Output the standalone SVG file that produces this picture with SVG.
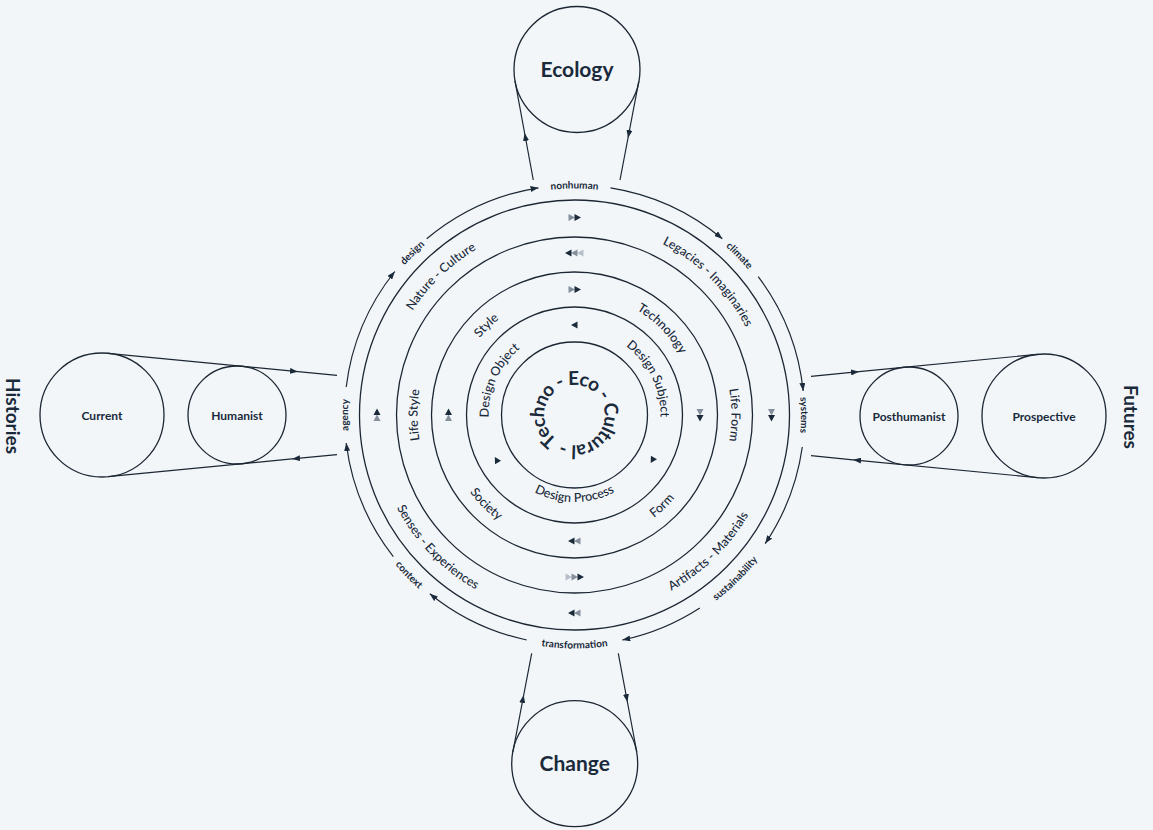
<svg xmlns="http://www.w3.org/2000/svg" xmlns:xlink="http://www.w3.org/1999/xlink" width="1153" height="830" viewBox="0 0 1153 830">
<style>
  .ring{fill:none;stroke:#1d2733;stroke-width:1.3}
  .conn{fill:none;stroke:#1d2733;stroke-width:1.2}
  .nc{fill:none;stroke:#1d2733;stroke-width:1.3}
  text{font-family:Lato,"Liberation Sans",sans-serif;fill:#1a2a3b}
  .outer{font-size:10px;font-weight:700;text-anchor:middle}
  .rl{font-size:12.5px;font-weight:500;text-anchor:middle}
  .nl{font-size:12px;font-weight:700;text-anchor:middle}
  .big{font-size:21px;font-weight:700;text-anchor:middle}
  .title{font-size:19px;font-weight:700;text-anchor:middle}
  .ctr{font-size:19px;font-weight:700}
  .dk{fill:#1b2a3a}
  .gr{fill:#848f9b}
  .lt{fill:#b6bec7}
</style>
<defs>
  <marker id="ah" viewBox="0 0 8 6" refX="8" refY="3" markerWidth="8" markerHeight="6" markerUnits="userSpaceOnUse" orient="auto">
    <path d="M0,0 L8,3 L0,6 z" fill="#1b2a3a"/>
  </marker>
  <path id="tri" d="M-3,-3.5 L3.5,0 L-3,3.5 z"/>
  <path id="t226" d="M-196.15,-113.25 A226.5,226.5 0 0 1 196.15,-113.25"/>
  <path id="b233" d="M-202.21,116.75 A233.5,233.5 0 0 0 202.21,116.75"/>
  <path id="t192" d="M-166.71,-96.25 A192.5,192.5 0 0 1 166.71,-96.25"/>
  <path id="b200" d="M-173.63,100.25 A200.5,200.5 0 0 0 173.63,100.25"/>
  <path id="t157" d="M-135.96,-78.5 A157,157 0 0 1 135.96,-78.5"/>
  <path id="t122" d="M-105.65,-61 A122,122 0 0 1 105.65,-61"/>
  <path id="b130" d="M-112.58,65 A130,130 0 0 0 112.58,65"/>
  <path id="t86" d="M-74.48,-43 A86,86 0 0 1 74.48,-43"/>
  <path id="b87" d="M-75.34,43.5 A87,87 0 0 0 75.34,43.5"/>
  <path id="ctrp" d="M-17.21,24.57 A30,30 0 1 1 17.21,-24.57 A30,30 0 1 1 -17.21,24.57"/>
</defs>
<rect width="1153" height="830" fill="#f2f6f9"/>

<g id="titles">
  <text class="title" transform="translate(12,416) rotate(90)" dy="6">Histories</text>
  <text class="title" transform="translate(1130,417) rotate(90)" dy="6">Futures</text>
</g>

<g id="connectors">
  <path class="conn" marker-end="url(#ah)" d="M346.2,387 A230,230 0 0 1 394.8,271.5"/>
  <path class="conn" marker-end="url(#ah)" d="M426.7,238.8 A230,230 0 0 1 538.5,187.8"/>
  <path class="conn" marker-end="url(#ah)" d="M610.5,187.8 A230,230 0 0 1 722.3,238.8"/>
  <path class="conn" marker-end="url(#ah)" d="M758.2,276.6 A230,230 0 0 1 803.2,391"/>
  <path class="conn" marker-end="url(#ah)" d="M802.3,447 A230,230 0 0 1 765.2,543.6"/>
  <path class="conn" marker-end="url(#ah)" d="M699.8,607.9 A230,230 0 0 1 622.3,640"/>
  <path class="conn" marker-end="url(#ah)" d="M526.7,640 A230,230 0 0 1 429.8,593.7"/>
  <path class="conn" marker-end="url(#ah)" d="M393.3,556.6 A230,230 0 0 1 346.2,443"/>
  <path class="conn" marker-mid="url(#ah)" d="M533.3,180 L524.6,133 L515,80.8"/>
  <path class="conn" marker-mid="url(#ah)" d="M638.8,81.3 L628,138 L620,180"/>
  <path class="conn" marker-mid="url(#ah)" d="M512.9,751.9 L523.7,695 L531.7,653.3"/>
  <path class="conn" marker-mid="url(#ah)" d="M618.3,653.3 L627.4,702 L636.8,752"/>
  <path class="conn" marker-mid="url(#ah)" d="M108,353.3 L298,371.7 L337,375.4"/>
  <path class="conn" marker-mid="url(#ah)" d="M337,454.6 L292,458.9 L108,476.7"/>
  <path class="conn" marker-mid="url(#ah)" d="M811,376.3 L859,371.7 L1038,354.3"/>
  <path class="conn" marker-mid="url(#ah)" d="M1038,477.7 L853,459.8 L811,455.7"/>
</g>

<g id="outer-labels" transform="translate(574.5,415)">
  <text class="outer" transform="rotate(-45)"><textPath href="#t226" startOffset="50%">design</textPath></text>
  <text class="outer"><textPath href="#t226" startOffset="50%">nonhuman</textPath></text>
  <text class="outer" transform="rotate(46)"><textPath href="#t226" startOffset="50%">climate</textPath></text>
  <text class="outer" transform="rotate(90)"><textPath href="#t226" startOffset="50%">systems</textPath></text>
  <text class="outer" transform="rotate(-90)"><textPath href="#t226" startOffset="50%">agency</textPath></text>
  <text class="outer" transform="rotate(-44.5)"><textPath href="#b233" startOffset="50%">sustainability</textPath></text>
  <text class="outer"><textPath href="#b233" startOffset="50%">transformation</textPath></text>
  <text class="outer" transform="rotate(46)"><textPath href="#b233" startOffset="50%">context</textPath></text>
</g>

<g id="wheel" transform="translate(574.5,415)">
  <circle class="ring" r="215"/>
  <circle class="ring" r="178"/>
  <circle class="ring" r="143"/>
  <circle class="ring" r="108"/>
  <circle class="ring" r="73"/>

  <g id="band4-labels">
    <text class="rl" transform="rotate(-44)"><textPath href="#t192" startOffset="50%">Nature - Culture</textPath></text>
    <text class="rl" transform="rotate(45)"><textPath href="#t192" startOffset="50%">Legacies - Imaginaries</textPath></text>
    <text class="rl" transform="rotate(46)"><textPath href="#b200" startOffset="50%">Senses - Experiences</textPath></text>
    <text class="rl" transform="rotate(-44.5)"><textPath href="#b200" startOffset="50%">Artifacts - Materials</textPath></text>
  </g>
  <g id="band3-labels">
    <text class="rl" transform="rotate(-90)"><textPath href="#t157" startOffset="50%">Life Style</textPath></text>
    <text class="rl" transform="rotate(90)"><textPath href="#t157" startOffset="50%">Life Form</textPath></text>
  </g>
  <g id="band2-labels">
    <text class="rl" transform="rotate(-44.5)"><textPath href="#t122" startOffset="50%">Style</textPath></text>
    <text class="rl" transform="rotate(45.4)"><textPath href="#t122" startOffset="50%">Technology</textPath></text>
    <text class="rl" transform="rotate(44.8)"><textPath href="#b130" startOffset="50%">Society</textPath></text>
    <text class="rl" transform="rotate(-44)"><textPath href="#b130" startOffset="50%">Form</textPath></text>
  </g>
  <g id="band1-labels">
    <text class="rl" transform="rotate(-65.5)"><textPath href="#t86" startOffset="50%">Design Object</textPath></text>
    <text class="rl" transform="rotate(64)"><textPath href="#t86" startOffset="50%">Design Subject</textPath></text>
    <text class="rl"><textPath href="#b87" startOffset="50%">Design Process</textPath></text>
  </g>
  <g id="core">
    <text class="ctr"><textPath href="#ctrp" textLength="184" lengthAdjust="spacing">Techno - Eco - Cultural -</textPath></text>
  </g>

  <g id="flow-markers">
    <g transform="rotate(-90) translate(197.5,0) rotate(90)"><use href="#tri" x="-3" class="gr"/><use href="#tri" x="3" class="dk"/></g>
    <g transform="rotate(0) translate(197,0) rotate(90)"><use href="#tri" x="-3" class="gr"/><use href="#tri" x="3" class="dk"/></g>
    <g transform="rotate(90) translate(198,0) rotate(90)"><use href="#tri" x="-3" class="gr"/><use href="#tri" x="3" class="dk"/></g>
    <g transform="rotate(180) translate(197.5,0) rotate(90)"><use href="#tri" x="-3" class="gr"/><use href="#tri" x="3" class="dk"/></g>
    <g transform="rotate(-90) translate(162,0) rotate(-90)"><use href="#tri" x="-6" class="lt"/><use href="#tri" x="0" class="gr"/><use href="#tri" x="6" class="dk"/></g>
    <g transform="rotate(90) translate(162,0) rotate(-90)"><use href="#tri" x="-6" class="lt"/><use href="#tri" x="0" class="gr"/><use href="#tri" x="6" class="dk"/></g>
    <g transform="rotate(-90) translate(125.5,0) rotate(90)"><use href="#tri" x="-3" class="gr"/><use href="#tri" x="3" class="dk"/></g>
    <g transform="rotate(0) translate(125.5,0) rotate(90)"><use href="#tri" x="-3" class="gr"/><use href="#tri" x="3" class="dk"/></g>
    <g transform="rotate(90) translate(126,0) rotate(90)"><use href="#tri" x="-3" class="gr"/><use href="#tri" x="3" class="dk"/></g>
    <g transform="rotate(180) translate(126,0) rotate(90)"><use href="#tri" x="-3" class="gr"/><use href="#tri" x="3" class="dk"/></g>
    <g transform="rotate(-90) translate(90,0) rotate(-90)"><use href="#tri" class="dk"/></g>
    <g transform="rotate(150) translate(90,0) rotate(90)"><use href="#tri" class="dk"/></g>
    <g transform="rotate(30) translate(90,0) rotate(90)"><use href="#tri" class="dk"/></g>
  </g>
</g>

<g id="node-ecology">
  <circle class="nc" cx="577" cy="69.5" r="63"/>
  <text class="big" x="577" y="77">Ecology</text>
</g>
<g id="node-change">
  <circle class="nc" cx="574.7" cy="763.7" r="63"/>
  <text class="big" x="574.7" y="771">Change</text>
</g>
<g id="node-current">
  <circle class="nc" cx="102" cy="415" r="62"/>
  <text class="nl" x="102" y="419.5">Current</text>
</g>
<g id="node-humanist">
  <circle class="nc" cx="237" cy="415" r="49"/>
  <text class="nl" x="237" y="419.5">Humanist</text>
</g>
<g id="node-posthumanist">
  <circle class="nc" cx="909" cy="416" r="49"/>
  <text class="nl" x="909" y="420.5">Posthumanist</text>
</g>
<g id="node-prospective">
  <circle class="nc" cx="1044" cy="416" r="62"/>
  <text class="nl" x="1044" y="420.5">Prospective</text>
</g>
</svg>
